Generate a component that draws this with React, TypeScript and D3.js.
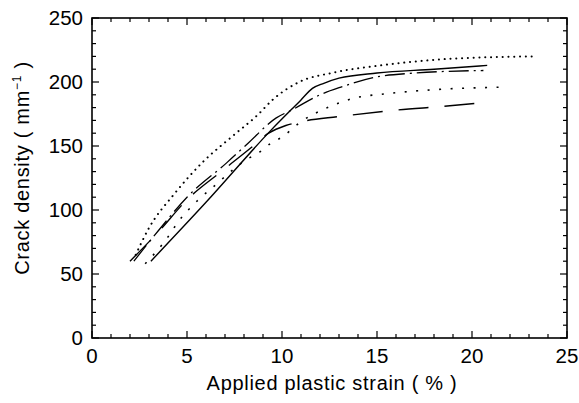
import React from 'react'
import * as d3 from 'd3'

// strain (%) vs crack density (mm^-1)
const solidX = [3.1, 6, 9.4, 11, 11.6, 12.2, 13, 15, 18, 20.8]
const solidY = [60, 106, 162, 186, 195, 199, 203, 207, 210, 213]

const longDashX = [2.0, 3.5, 5, 6.8, 8.4, 9.3, 10.2, 11, 13, 16, 18.5, 20.7]
const longDashY = [60, 83, 108, 130, 149, 160, 166, 169, 173, 178, 181, 184]

const dashDotX = [2.2, 3.5, 5, 7.1, 8.2, 9.7, 10.5, 12, 13.1, 15, 17, 20.6]
const dashDotY = [60, 84, 110, 137, 152, 172, 178, 190, 196, 204, 207, 209]

const fineDotX = [2.3, 3.0, 4.3, 5.8, 7.5, 8.7, 9.5, 10.9, 12.6, 15.2, 18.7, 23.2]
const fineDotY = [65, 86, 112, 137, 159, 174, 186, 200, 207, 213, 218, 220]

const sparseDotX = [2.8, 4.0, 4.5, 5.6, 6.3, 8.2, 8.8, 9.4, 10, 11, 12.4, 13.7, 15.6, 18, 21.8]
const sparseDotY = [58, 79, 90, 108, 117, 140, 145, 152, 157, 169, 180, 187, 191, 194, 196]

const xTicks = [0, 5, 10, 15, 20, 25]
const yTicks = [0, 50, 100, 150, 200, 250]

const W = 579
const H = 403
const FONT = 'Liberation Sans, Arial, sans-serif'

const series = [
  { xs: solidX, ys: solidY, dash: null, cap: 'butt', w: 1.4 },
  { xs: longDashX, ys: longDashY, dash: '30 16', cap: 'butt', w: 1.4 },
  { xs: dashDotX, ys: dashDotY, dash: '20 5 2 5', cap: 'butt', w: 1.3 },
  { xs: fineDotX, ys: fineDotY, dash: '0.1 5.7', cap: 'round', w: 2 },
  { xs: sparseDotX, ys: sparseDotY, dash: '2 9.5', cap: 'butt', w: 1.6 },
]

export default function App() {
  const x = d3.scaleLinear().domain([0, 25]).range([92, 567])
  const y = d3.scaleLinear().domain([0, 250]).range([338, 18])
  const [x0, x1] = x.range()
  const [y0, y1] = y.range()

  const line = d3.line<[number, number]>()
    .x((d) => x(d[0]))
    .y((d) => y(d[1]))
    .curve(d3.curveMonotoneX)

  const xMinor = d3.range(0, 26, 1)
  const yMinor = d3.range(0, 251, 10)

  return (
    <svg width={W} height={H} style={{ position: 'absolute', left: 0, top: 0, background: '#fff' }}>
      {series.map((s, i) => (
        <path
          key={i}
          d={line(s.xs.map((v, j) => [v, s.ys[j]] as [number, number])) || ''}
          fill="none"
          stroke="#000"
          strokeWidth={s.w}
          strokeDasharray={s.dash || undefined}
          strokeLinecap={s.cap as any}
        />
      ))}

      {xMinor.map((v) => {
        const len = v % 5 === 0 ? 7 : 4
        return (
          <g key={'xt' + v} stroke="#000" strokeWidth={1.2}>
            <line x1={x(v)} x2={x(v)} y1={y0} y2={y0 - len} />
            <line x1={x(v)} x2={x(v)} y1={y1} y2={y1 + len} />
          </g>
        )
      })}
      {yMinor.map((v) => {
        const len = v % 50 === 0 ? 7 : 4
        return (
          <g key={'yt' + v} stroke="#000" strokeWidth={1.2}>
            <line x1={x0} x2={x0 + len} y1={y(v)} y2={y(v)} />
            <line x1={x1} x2={x1 - len} y1={y(v)} y2={y(v)} />
          </g>
        )
      })}
      <rect x={x0} y={y1} width={x1 - x0} height={y0 - y1} fill="none" stroke="#000" strokeWidth={1.6} />

      {xTicks.map((v) => (
        <text key={'xl' + v} x={x(v)} y={y0 + 25} textAnchor="middle" fontFamily={FONT} fontSize={20.5}>
          {v}
        </text>
      ))}
      {yTicks.map((v) => (
        <text key={'yl' + v} x={x0 - 9} y={y(v) + 7} textAnchor="end" fontFamily={FONT} fontSize={20.5}>
          {v}
        </text>
      ))}

      <text x={332} y={390} textAnchor="middle" fontFamily={FONT} fontSize={20} letterSpacing={0.7}>
        Applied plastic strain ( % )
      </text>
      <text
        transform={`translate(29,168) rotate(-90)`}
        textAnchor="middle"
        fontFamily={FONT}
        fontSize={20}
        letterSpacing={0.7}
      >
        Crack density ( mm
        <tspan dy={-8} fontSize={12}>−1</tspan>
        <tspan dy={8}> )</tspan>
      </text>
    </svg>
  )
}
